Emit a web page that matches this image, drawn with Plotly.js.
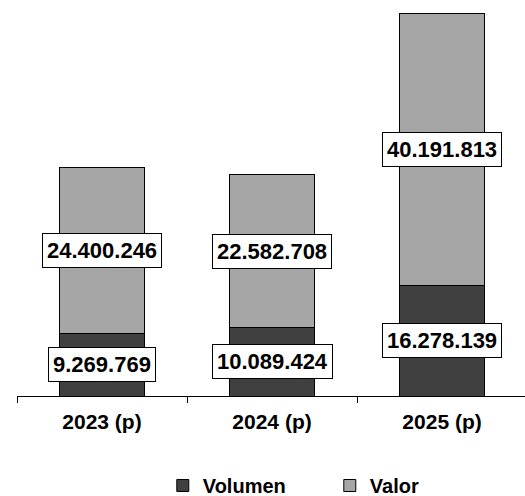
<!DOCTYPE html>
<html>
<head>
<meta charset="utf-8">
<script src="https://cdn.plot.ly/plotly-2.35.2.min.js"></script>
<style>html,body{margin:0;padding:0;background:#fff;}#chart{width:525px;height:496px;}</style>
</head>
<body>
<div id="chart"></div>
<script>
var categories = ["2023 (p)", "2024 (p)", "2025 (p)"];
var volumen = [9269769, 10089424, 16278139];
var valor = [24400246, 22582708, 40191813];
var seriesNames = ["Volumen", "Valor"];

function fmt(n) {
  return String(Math.round(n)).replace(/\B(?=(\d{3})+(?!\d))/g, ".");
}

var FONT = "Arial, 'Liberation Sans', sans-serif";

var traces = [
  {type: "bar", name: seriesNames[0], x: categories, y: volumen,
   marker: {color: "#404040", line: {color: "#000", width: 1}}, width: 0.5, hoverinfo: "none"},
  {type: "bar", name: seriesNames[1], x: categories, y: valor,
   marker: {color: "#a6a6a6", line: {color: "#000", width: 1}}, width: 0.5, hoverinfo: "none"}
];

var annotations = [];
categories.forEach(function (c, i) {
  annotations.push({x: c, y: volumen[i] / 2, xref: "x", yref: "y", text: "<b>" + fmt(volumen[i]) + "</b>",
    showarrow: false, bgcolor: "#fff", bordercolor: "#000", borderwidth: 1, borderpad: 4,
    font: {family: FONT, size: 22, color: "#000"}});
  annotations.push({x: c, y: volumen[i] + valor[i] / 2, xref: "x", yref: "y", text: "<b>" + fmt(valor[i]) + "</b>",
    showarrow: false, bgcolor: "#fff", bordercolor: "#000", borderwidth: 1, borderpad: 4,
    font: {family: FONT, size: 22, color: "#000"}});
});

var layout = {
  width: 525, height: 496,
  margin: {l: 17, r: 0, t: 0, b: 100, autoexpand: false},
  barmode: "stack",
  paper_bgcolor: "#fff", plot_bgcolor: "#fff",
  font: {family: FONT, size: 20, color: "#000"},
  xaxis: {
    type: "category", range: [-0.5, 2.488],
    showline: true, linecolor: "#000", linewidth: 1,
    ticks: "outside", tickson: "boundaries", ticklen: 6, tickcolor: "#000", tickwidth: 1,
    ticklabelstandoff: 7,
    tickfont: {family: FONT, size: 21, color: "#000", weight: "bold"},
    showgrid: false, zeroline: false, fixedrange: true
  },
  yaxis: {range: [0, 58390000], visible: false, showgrid: false, zeroline: false, fixedrange: true},
  showlegend: true,
  legend: {
    orientation: "h", x: 0.287, xanchor: "left", y: -0.226, yanchor: "middle",
    font: {family: FONT, size: 20, color: "#000", weight: "bold"},
    entrywidth: 122, entrywidthmode: "pixels", traceorder: "normal"
  },
  annotations: annotations
};

Plotly.newPlot("chart", traces, layout, {displayModeBar: false, staticPlot: true});
</script>
</body>
</html>
